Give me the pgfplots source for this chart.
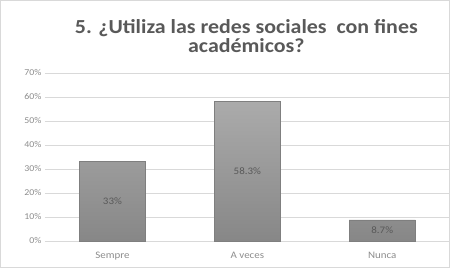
\documentclass[border=0pt]{standalone}
\usepackage{pgfplots}
\pgfplotsset{compat=1.18}
\usepackage{pgfplotstable}
\usepackage{fontspec}
\setmainfont{Carlito}[FakeStretch=1.1]
\definecolor{titlegray}{HTML}{595959}
\definecolor{tickgray}{HTML}{8C8C8C}
\definecolor{gridgray}{HTML}{D9D9D9}
\definecolor{bartop}{HTML}{ABABAB}
\definecolor{barbot}{HTML}{878787}
\definecolor{baredge}{HTML}{7F7F7F}
\pgfplotstableread{
x y label
0 33 33\%
1 58.3 58.3\%
2 8.7 8.7\%
}\datatable
\begin{document}
\begin{tikzpicture}
\draw[draw=gridgray, line width=0.6bp] (0.3bp,0.3bp) rectangle (449.7bp,267.7bp);
\node[anchor=base, text=titlegray, font=\bfseries\fontsize{20}{20}\selectfont, inner sep=0pt] at (246.5bp,234.5bp) {5. ¿Utiliza las redes sociales\ \ con fines};
\node[anchor=base, text=titlegray, font=\bfseries\fontsize{20}{20}\selectfont, inner sep=0pt] at (246.5bp,215bp) {académicos?};
\begin{axis}[
  at={(45bp,27bp)}, anchor=south west,
  scale only axis, width=405bp, height=168bp,
  xmin=-0.5, xmax=2.5, ymin=0, ymax=70,
  xtick={0,1,2}, xticklabels={Sempre, A veces, Nunca},
  ytick={0,10,...,70},
  yticklabel={\pgfmathprintnumber{\tick}\%},
  /pgf/number format/assume math mode=true,
  axis line style={draw=none},
  major tick length=0pt,
  ymajorgrids, grid style={gridgray, line width=0.6bp},
  tick label style={text=tickgray},
  yticklabel style={font=\fontsize{9}{10}\selectfont},
  xticklabel style={font=\fontsize{10}{11}\selectfont, yshift=-8bp},
  clip=false,
]
\addplot[ybar, bar width=0.49, top color=bartop, bottom color=barbot, draw=baredge, line width=0.5bp,
  point meta=explicit symbolic,
  visualization depends on={rawy \as \rawy},
  nodes near coords,
  every node near coord/.append style={anchor=center, yshift={-1.2bp*\rawy}, text=titlegray, font=\fontsize{10}{11}\selectfont}
] table[x=x, y=y, meta=label] {\datatable};
\end{axis}
\end{tikzpicture}
\end{document}
